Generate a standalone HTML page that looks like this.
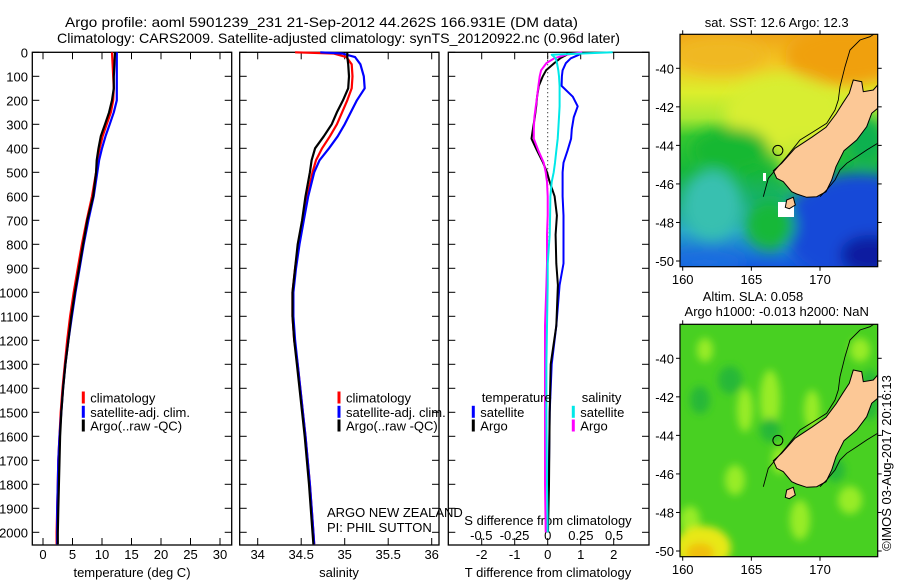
<!DOCTYPE html>
<html><head><meta charset="utf-8"><style>
html,body{margin:0;padding:0;background:#fff;}
svg{display:block;font-family:"Liberation Sans",sans-serif;}
text{fill:#000;}
</style></head><body>
<svg id="fig" width="900" height="580" viewBox="0 0 900 580" xmlns="http://www.w3.org/2000/svg">
<defs>
<filter id="blur6" x="-50%" y="-50%" width="200%" height="200%"><feGaussianBlur stdDeviation="7"/></filter>
<filter id="blur3" x="-50%" y="-50%" width="200%" height="200%"><feGaussianBlur stdDeviation="4"/></filter>
<linearGradient id="sstGrad" x1="0" y1="0" x2="0" y2="1">
<stop offset="0" stop-color="#f0a418"/><stop offset="0.12" stop-color="#f2c624"/>
<stop offset="0.25" stop-color="#dcee2c"/><stop offset="0.36" stop-color="#a8e832"/>
<stop offset="0.44" stop-color="#38c830"/><stop offset="0.58" stop-color="#18b838"/>
<stop offset="0.72" stop-color="#18b070"/><stop offset="0.84" stop-color="#28a8c8"/>
<stop offset="1" stop-color="#1458e0"/></linearGradient>
<clipPath id="clipTop"><rect x="680" y="34.3" width="197.7" height="232.4"/></clipPath>
<clipPath id="clipBot"><rect x="680" y="324.3" width="197.7" height="232.4"/></clipPath>
</defs>
<g id="titles"></g>
<g id="panels"></g>
<g id="maps"></g>
</svg>
<script>
// ---------- chart data ----------
const tempDepths = [0,50,100,150,200,250,300,350,400,450,500,600,700,800,900,1000,1100,1200,1300,1400,1500,1600,1700,1800,1900,2000,2050];
const tempClim   = [11.7,11.8,11.9,12.0,11.9,11.5,10.8,10.1,9.6,9.2,9.0,8.3,7.4,6.6,5.9,5.2,4.6,4.1,3.7,3.3,3.0,2.8,2.6,2.5,2.4,2.3,2.3];
const tempSat    = [12.5,12.5,12.5,12.5,12.5,12.0,11.3,10.6,10.0,9.5,9.2,8.6,7.7,6.9,6.2,5.5,4.9,4.3,3.8,3.4,3.1,2.8,2.6,2.5,2.4,2.4,2.4];
const tempArgo   = [12.2,12.1,12.0,12.0,11.7,11.2,10.5,9.8,9.4,9.1,9.0,8.5,7.5,6.8,6.1,5.4,4.8,4.3,3.8,3.4,3.1,2.9,2.8,2.7,2.6,2.5,2.5];

const salDepths = [0,5,20,50,100,150,200,250,300,350,400,450,500,600,700,800,900,1000,1100,1200,1300,1400,1500,1600,1800,2000,2050];
const salClim   = [34.43,34.87,35.02,35.08,35.09,35.08,35.03,34.97,34.91,34.83,34.74,34.67,34.63,34.57,34.52,34.47,34.43,34.40,34.40,34.42,34.46,34.49,34.52,34.55,34.60,34.64,34.65];
const salSat    = [34.72,34.97,35.12,35.18,35.22,35.23,35.14,35.07,35.00,34.92,34.82,34.71,34.65,34.58,34.53,34.48,34.44,34.41,34.41,34.43,34.46,34.49,34.52,34.55,34.60,34.64,34.65];
const salArgo   = [35.03,35.03,35.03,35.04,35.05,35.04,34.98,34.91,34.85,34.76,34.66,34.62,34.60,34.55,34.51,34.46,34.43,34.40,34.40,34.42,34.45,34.48,34.51,34.54,34.59,34.63,34.64];

const diffDepths = [0,10,25,45,75,100,140,185,225,270,320,360,410,460,500,540,600,680,760,880,970,1140,1300,1500,1800,2000];
const dTSat  = [0.95,0.95,0.70,0.55,0.45,0.43,0.42,0.76,0.91,0.79,0.73,0.71,0.60,0.48,0.45,0.45,0.45,0.48,0.48,0.48,0.36,0.26,0.12,0.06,0.03,0.0];
const dTArgo = [0.60,0.58,0.38,0.20,-0.05,-0.15,-0.27,-0.32,-0.35,-0.39,-0.45,-0.49,-0.32,-0.14,-0.02,0.06,0.21,0.28,0.24,0.26,0.31,0.26,0.09,0.06,0.04,0.01];
const dSSat  = [0.49,0.03,0.06,0.07,0.08,0.085,0.09,0.09,0.09,0.085,0.08,0.075,0.065,0.055,0.045,0.03,0.02,0.018,0.015,0.0,0.0,-0.005,-0.01,-0.01,-0.005,0.0];
const dSArgo = [0.26,0.14,0.05,-0.01,-0.05,-0.06,-0.07,-0.08,-0.09,-0.10,-0.105,-0.105,-0.07,-0.03,-0.015,-0.005,0.0,0.0,-0.005,-0.005,-0.01,-0.02,-0.02,-0.02,-0.02,-0.015];

const depthTicks = [0,100,200,300,400,500,600,700,800,900,1000,1100,1200,1300,1400,1500,1600,1700,1800,1900,2000];
const tempTicks = [0,5,10,15,20,25,30];
const salTicks = [34,34.5,35,35.5,36];
const salTickLabels = ["34","34.5","35","35.5","36"];
const dTTicks = [-2,-1,0,1,2];
const dSTicks = [-0.5,-0.25,0,0.25,0.5];
const dSTickLabels = ["-0.5","-0.25","0","0.25","0.5"];
const lonTicks = [160,165,170];
const latTicks = [-40,-42,-44,-46,-48,-50];

// ---------- scales ----------
const yD = d => 52.3 + d*0.24;
const xT = t => 43 + t*5.9;
const xS = s => 257.7 + (s-34)*87;
const xDT = t => 547.7 + t*33;
const xDS = s => 547.7 + s*132.7;
const mapX = lon => 682.7 + (lon-160)*13.73;
const mapY = lat => 68.3 + (-40-lat)*19.27;

const NS = "http://www.w3.org/2000/svg";
function el(tag, attrs, parent){const e=document.createElementNS(NS,tag);for(const k in attrs)e.setAttribute(k,attrs[k]);parent.appendChild(e);return e;}
function txt(s, attrs, parent){const e=el("text",attrs,parent);e.textContent=s;return e;}

const titles=document.getElementById("titles");
let t1=txt("Argo profile: aoml 5901239_231 21-Sep-2012 44.262S 166.931E (DM data)",{x:65,y:27,"font-size":14,textLength:513,lengthAdjust:"spacingAndGlyphs"},titles);


let t2=txt("Climatology: CARS2009. Satellite-adjusted climatology: synTS_20120922.nc (0.96d later)",{x:57,y:43,"font-size":14,textLength:563,lengthAdjust:"spacingAndGlyphs"},titles);



const panels=document.getElementById("panels");
const TOP=52.3, BOT=545;

function panelBox(x0,x1,name){
  const g=el("g",{},panels);
  
  
  const r=el("rect",{x:x0,y:TOP,width:x1-x0,height:BOT-TOP,fill:"none",stroke:"#000","stroke-width":1.3},g);
  
  
  depthTicks.forEach(d=>{
    const y=yD(d);
    el("line",{x1:x0,x2:x0+7,y1:y,y2:y,stroke:"#000","stroke-width":1},g);
    el("line",{x1:x1-7,x2:x1,y1:y,y2:y,stroke:"#000","stroke-width":1},g);
  });
  return g;
}
function xTicks(g,vals,fn){
  vals.forEach(v=>{const x=fn(v);
    el("line",{x1:x,x2:x,y1:TOP,y2:TOP+7,stroke:"#000","stroke-width":1},g);
    el("line",{x1:x,x2:x,y1:BOT-7,y2:BOT,stroke:"#000","stroke-width":1},g);});
}
function series(g,depths,vals,fn,color,name,w){
  const pts=depths.map((d,i)=>fn(vals[i]).toFixed(1)+","+yD(d).toFixed(1)).join(" ");
  const p=el("polyline",{points:pts,fill:"none",stroke:color,"stroke-width":w||2.2,"stroke-linejoin":"round"},g);
  
  
  return p;
}
function legend(g,x,y,color,label,name){
  const lg=el("g",{},g);
  
  
  el("line",{x1:x,x2:x,y1:y-6,y2:y+6,stroke:color,"stroke-width":3},lg);
  txt(label,{x:x+7,y:y+5,"font-size":13},lg);
}

const dl=el("g",{},panels);


depthTicks.forEach(d=>{txt(String(d),{x:28,y:yD(d)+5,"font-size":13,"text-anchor":"end"},dl);});

const p1=panelBox(32.3,231.7,'temperature-panel');
xTicks(p1,tempTicks,xT);
tempTicks.forEach(v=>txt(String(v),{x:xT(v),y:559,"font-size":13,"text-anchor":"middle"},p1));
let xl1=txt("temperature (deg C)",{x:132,y:577,"font-size":13,"text-anchor":"middle"},p1);


series(p1,tempDepths,tempClim,xT,"#ff0000",'temp-climatology-line');
series(p1,tempDepths,tempSat,xT,"#0000ff",'temp-satellite-line');
series(p1,tempDepths,tempArgo,xT,"#000000",'temp-argo-line');
legend(p1,83.3,397.5,"#ff0000","climatology",'legend-climatology');
legend(p1,83.3,411.8,"#0000ff","satellite-adj. clim.",'legend-satellite');
legend(p1,83.3,425.5,"#000000","Argo(..raw -QC)",'legend-argo');

const p2=panelBox(239.7,439,'salinity-panel');
xTicks(p2,salTicks,xS);
salTicks.forEach((v,i)=>txt(salTickLabels[i],{x:xS(v),y:559,"font-size":13,"text-anchor":"middle"},p2));
let xl2=txt("salinity",{x:339,y:577,"font-size":13,"text-anchor":"middle"},p2);


series(p2,salDepths,salClim,xS,"#ff0000",'sal-climatology-line');
series(p2,salDepths,salSat,xS,"#0000ff",'sal-satellite-line');
series(p2,salDepths,salArgo,xS,"#000000",'sal-argo-line');
legend(p2,339,397.5,"#ff0000","climatology",'legend-climatology');
legend(p2,339,411.8,"#0000ff","satellite-adj. clim.",'legend-satellite');
legend(p2,339,425.5,"#000000","Argo(..raw -QC)",'legend-argo');
let an1=txt("ARGO NEW ZEALAND",{x:327,y:517,"font-size":13},p2);


let an2=txt("PI: PHIL SUTTON",{x:327,y:532,"font-size":13},p2);



const p3=panelBox(448.3,649,'difference-panel');
xTicks(p3,dTTicks,xDT);
dTTicks.forEach(v=>txt(String(v),{x:xDT(v),y:559,"font-size":13,"text-anchor":"middle"},p3));
dSTicks.forEach((v,i)=>txt(dSTickLabels[i],{x:xDS(v),y:540,"font-size":13,"text-anchor":"middle"},p3));
let xl3=txt("T difference from climatology",{x:548,y:577,"font-size":13,"text-anchor":"middle"},p3);


let xl4=txt("S difference from climatology",{x:548,y:525,"font-size":13,"text-anchor":"middle"},p3);


let zl=el("line",{x1:xDT(0),x2:xDT(0),y1:yD(0),y2:yD(1000),stroke:"#000","stroke-width":1,"stroke-dasharray":"1,3"},p3);


series(p3,diffDepths,dTSat,xDT,"#0000ff",'dT-satellite-line',2);
series(p3,diffDepths,dTArgo,xDT,"#000000",'dT-argo-line',2);
series(p3,diffDepths,dSArgo,xDS,"#ff00ff",'dS-argo-line',2);
series(p3,diffDepths,dSSat,xDS,"#00e8e8",'dS-satellite-line',2);
let lt=txt("temperature",{x:481.7,y:402,"font-size":13},p3);


let ls=txt("salinity",{x:581.7,y:402,"font-size":13},p3);


legend(p3,473.3,411.8,"#0000ff","satellite",'legend-t-satellite');
legend(p3,473.3,425.5,"#000000","Argo",'legend-t-argo');
legend(p3,573.3,411.8,"#00e8e8","satellite",'legend-s-satellite');
legend(p3,573.3,425.5,"#ff00ff","Argo",'legend-s-argo');

// ---------- maps ----------
const maps=document.getElementById("maps");
const landPx=[[640,240],[665,245],[670,275],[700,270],[713,255],[713,325],[695,340],[680,380],[650,420],[612,452],[588,500],[575,540],[558,575],[530,590],[500,592],[470,582],[455,575],[430,545],[410,535],[400,512],[425,490],[465,445],[515,412],[558,382],[588,342],[608,310],[628,280]];
const stewartPx=[[440,600],[460,592],[466,615],[448,626],[436,622]];
const contourPx=[[713,95],[690,110],[660,120],[630,150],[615,200],[600,260],[595,300],[585,330],[560,370],[520,395],[480,420],[440,470],[410,505],[385,535],[370,590]];
const contour2Px=[[713,430],[680,450],[650,470],[620,490],[600,510],[585,540],[560,570],[540,590]];
const ptsStr=(arr,dy)=>arr.map(p=>(640+p[0]/3).toFixed(1)+","+(p[1]/3+dy).toFixed(1)).join(" ");

function mapFrame(g,dy,name){
  const fr=el("rect",{x:680,y:34.3+dy,width:197.7,height:232.4,fill:"none",stroke:"#000","stroke-width":1.2},g);
  
  
  lonTicks.forEach(v=>{const x=mapX(v);
    el("line",{x1:x,x2:x,y1:34.3+dy-4,y2:34.3+dy,stroke:"#000"},g);
    el("line",{x1:x,x2:x,y1:266.7+dy,y2:266.7+dy+4,stroke:"#000"},g);
    txt(String(v),{x:x,y:284+dy,"font-size":13,"text-anchor":"middle"},g);});
  latTicks.forEach(v=>{const y=mapY(v)+dy;
    el("line",{x1:676,x2:680,y1:y,y2:y,stroke:"#000"},g);
    el("line",{x1:877.7,x2:881.7,y1:y,y2:y,stroke:"#000"},g);
    txt(String(v),{x:674,y:y+5,"font-size":13,"text-anchor":"end"},g);});
}
function coast(g,dy){
  const land=el("polygon",{points:ptsStr(landPx,dy),fill:"#fcc896",stroke:"#000","stroke-width":1},g);
  
  
  el("polygon",{points:ptsStr(stewartPx,dy),fill:"#fcc896",stroke:"#000","stroke-width":1},g);
  el("polyline",{points:ptsStr(contourPx,dy),fill:"none",stroke:"#000","stroke-width":0.9},g);
  el("polyline",{points:ptsStr(contour2Px,dy),fill:"none",stroke:"#000","stroke-width":0.9},g);
  const c=el("circle",{cx:mapX(166.931),cy:mapY(-44.262)+dy,r:5,fill:"none",stroke:"#000","stroke-width":1},g);
  
  
}

const m1=el("g",{},maps);


const f1=el("g",{"clip-path":"url(#clipTop)"},m1);
el("rect",{x:680,y:34.3,width:197.7,height:232.4,fill:"url(#sstGrad)"},f1);
const blobs1=el("g",{filter:"url(#blur6)"},f1);
el("ellipse",{cx:845,cy:55,rx:60,ry:30,fill:"#f0a010"},blobs1);
el("ellipse",{cx:720,cy:55,rx:45,ry:18,fill:"#f0b820"},blobs1);
el("ellipse",{cx:785,cy:115,rx:60,ry:40,fill:"#d8ee30"},blobs1);
el("ellipse",{cx:800,cy:160,rx:22,ry:22,fill:"#c8ea30"},blobs1);
el("ellipse",{cx:712,cy:205,rx:30,ry:35,fill:"#38c0b0"},blobs1);
el("ellipse",{cx:860,cy:228,rx:78,ry:55,fill:"#1448d8"},blobs1);
el("ellipse",{cx:870,cy:255,rx:30,ry:20,fill:"#0a1ca0"},blobs1);
el("ellipse",{cx:705,cy:262,rx:40,ry:10,fill:"#1a70e0"},blobs1);
el("ellipse",{cx:865,cy:140,rx:20,ry:25,fill:"#10b050"},blobs1);
el("ellipse",{cx:730,cy:150,rx:40,ry:22,fill:"#18b830"},blobs1);
el("ellipse",{cx:770,cy:225,rx:25,ry:25,fill:"#18b838"},blobs1);
el("rect",{x:778,y:202,width:16,height:15,fill:"#fff"},f1);
el("rect",{x:763,y:173,width:3,height:8,fill:"#fff"},f1);
coast(f1,0);
mapFrame(m1,0,'sst-map-frame');
let mt1=txt("sat. SST: 12.6 Argo: 12.3",{x:776.7,y:27,"font-size":13,"text-anchor":"middle"},m1);



const m2=el("g",{},maps);


const f2=el("g",{"clip-path":"url(#clipBot)"},m2);
el("rect",{x:680,y:324.3,width:197.7,height:232.4,fill:"#48d022"},f2);
const blobs2=el("g",{filter:"url(#blur3)"},f2);
[[745,410,8,22],[770,400,10,30],[812,410,8,20],[705,350,8,12],[780,460,8,14],[735,480,10,15],[690,520,10,14],[850,500,12,14],[800,520,10,20],[860,350,10,12]].forEach(b=>el("ellipse",{cx:b[0],cy:b[1],rx:b[2],ry:b[3],fill:"#98ec28"},blobs2));
[[730,380,12,14],[770,430,10,12],[700,400,10,14],[870,395,10,25],[835,470,10,12]].forEach(b=>el("ellipse",{cx:b[0],cy:b[1],rx:b[2],ry:b[3],fill:"#28b838"},blobs2));
el("ellipse",{cx:703,cy:548,rx:28,ry:22,fill:"#e8e818"},blobs2);
el("ellipse",{cx:700,cy:553,rx:14,ry:10,fill:"#f0c010"},blobs2);
coast(f2,290);
mapFrame(m2,290,'sla-map-frame');
let mt2=txt("Altim. SLA: 0.058",{x:753,y:301,"font-size":13,"text-anchor":"middle"},m2);


let mt3=txt("Argo h1000: -0.013 h2000: NaN",{x:776.7,y:316,"font-size":13,"text-anchor":"middle"},m2);


let cr=txt("©IMOS 03-Aug-2017 20:16:13",{x:0,y:0,"font-size":13,"text-anchor":"middle",transform:"translate(891,463) rotate(-90)"},m2);


</script>
</body></html>
